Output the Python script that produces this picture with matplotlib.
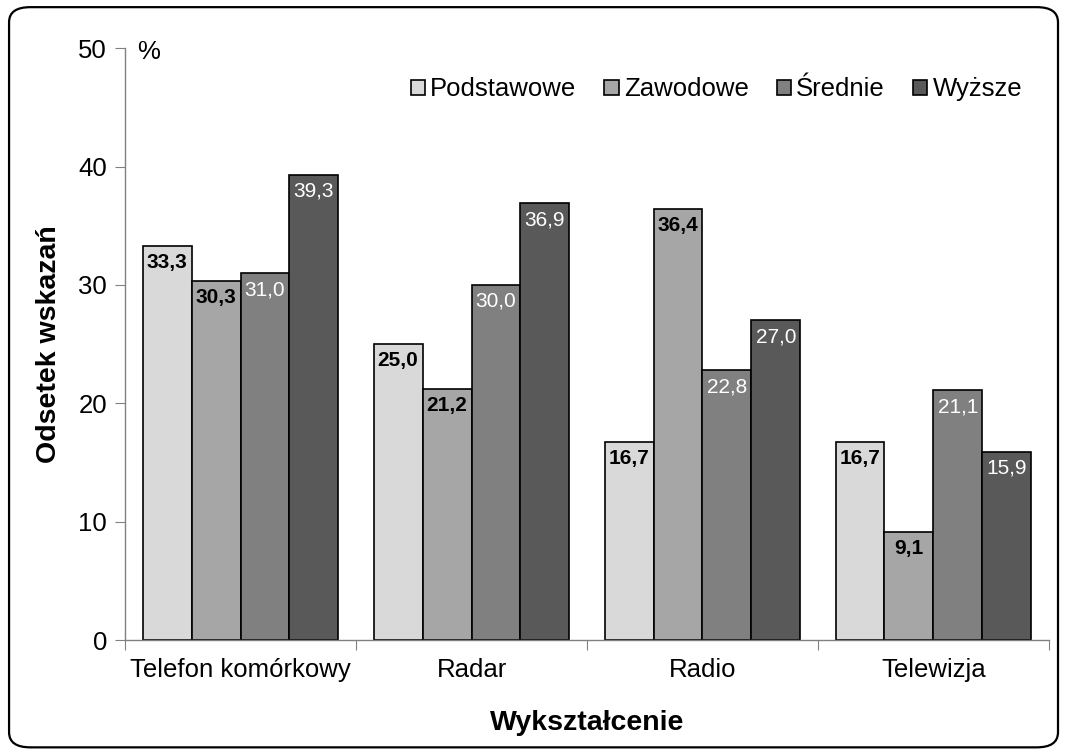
import matplotlib
matplotlib.use("Agg")
import matplotlib.pyplot as plt
import numpy as np
from matplotlib.patches import FancyBboxPatch

plt.rcParams['font.family'] = ['Liberation Sans', 'DejaVu Sans']

categories = ["Telefon komórkowy", "Radar", "Radio", "Telewizja"]
series = ["Podstawowe", "Zawodowe", "Średnie", "Wyższe"]
podstawowe = [33.3, 25.0, 16.7, 16.7]
zawodowe = [30.3, 21.2, 36.4, 9.1]
srednie = [31.0, 30.0, 22.8, 21.1]
wyzsze = [39.3, 36.9, 27.0, 15.9]
values = [podstawowe, zawodowe, srednie, wyzsze]
colors = ["#D9D9D9", "#A6A6A6", "#808080", "#595959"]
label_colors = ["black", "black", "white", "white"]
label_weights = ["bold", "bold", "normal", "normal"]

fig = plt.figure(figsize=(10.66, 7.53), dpi=100)
ax = fig.add_axes([0.1173, 0.150, 0.8667, 0.786])

# rounded frame around the whole chart
frame = FancyBboxPatch((0.0085, 0.0075), 0.984, 0.983,
                       boxstyle="round,pad=0,rounding_size=0.02",
                       transform=fig.transFigure, fill=False,
                       edgecolor="black", linewidth=1.6, zorder=0)
fig.patches.append(frame)

x = np.arange(len(categories))
width = 0.212
offsets = (np.arange(4) - 1.5) * width
for i, (vals, col) in enumerate(zip(values, colors)):
    bars = ax.bar(x + offsets[i], vals, width, color=col, edgecolor="black",
                  linewidth=1.2, label=series[i], zorder=2)
    for b, v in zip(bars, vals):
        ax.annotate(f"{v:.1f}".replace(".", ","),
                    (b.get_x() + b.get_width() / 2, v),
                    xytext=(0, -5), textcoords="offset points",
                    ha="center", va="top", fontsize=15,
                    color=label_colors[i], fontweight=label_weights[i], zorder=3)

ax.set_xlim(-0.5, 3.5)
ax.set_ylim(0, 50)
ax.set_yticks([0, 10, 20, 30, 40, 50])
ax.set_xticks([-0.5, 0.5, 1.5, 2.5, 3.5])
ax.set_xticklabels([])
ax.set_xticks(x, minor=True)
ax.set_xticklabels(categories, minor=True)
ax.tick_params(axis="x", which="minor", length=0, pad=13, labelsize=18.5)
ax.tick_params(axis="x", which="major", length=7, color="#808080", direction="out")
ax.tick_params(axis="y", length=7, color="#808080", labelsize=18.5, pad=6)

for s in ["top", "right"]:
    ax.spines[s].set_visible(False)
for s in ["left", "bottom"]:
    ax.spines[s].set_color("#808080")
    ax.spines[s].set_linewidth(1.0)

ax.set_ylabel("Odsetek wskazań", fontsize=20.5, fontweight="bold", labelpad=12)
ax.set_xlabel("Wykształcenie", fontsize=20.5, fontweight="bold", labelpad=20)

ax.text(0.013, 0.994, "%", transform=ax.transAxes, fontsize=18.5, ha="left", va="center")

leg = ax.legend(loc="upper right", bbox_to_anchor=(0.982, 0.968), ncol=4,
                frameon=False, fontsize=18.5, handlelength=0.55, handleheight=0.55,
                handletextpad=0.2, columnspacing=1.1, borderaxespad=0)

fig.savefig("out.png", dpi=100)
